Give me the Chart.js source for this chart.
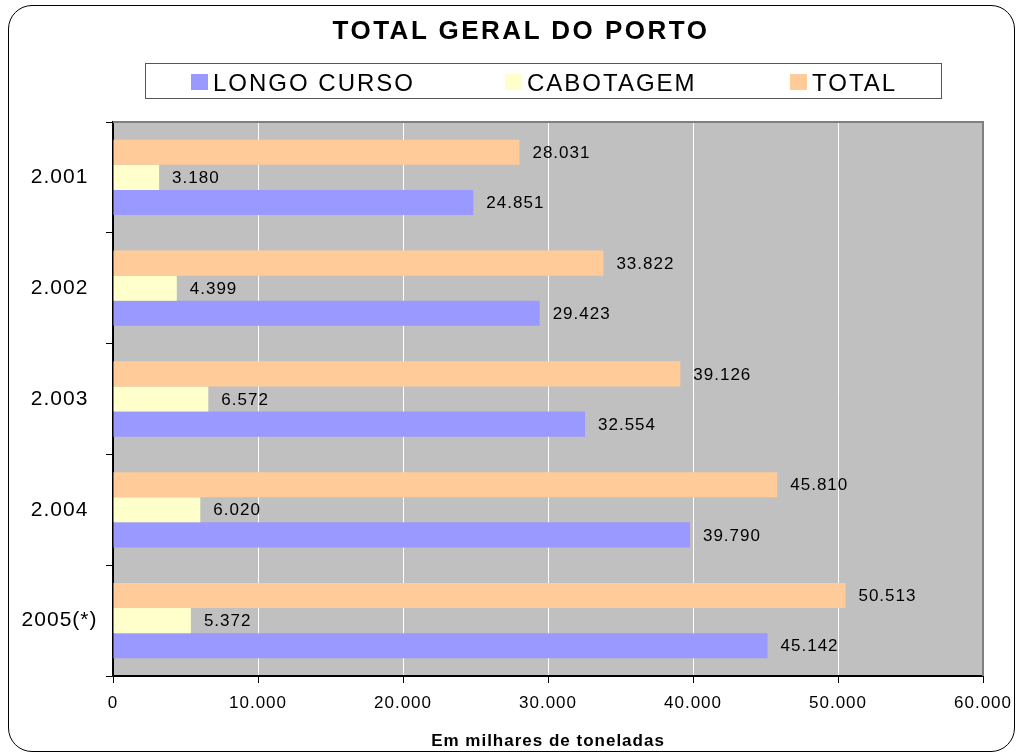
<!DOCTYPE html>
<html>
<head>
<meta charset="utf-8">
<title>Total Geral do Porto</title>
<script src="https://cdn.jsdelivr.net/npm/chart.js@4"></script>
<style>
    body { margin: 0; background: #fff; font-family: "Liberation Sans", Arial, sans-serif; }
    #wrap { position: relative; width: 1016px; height: 753px; overflow: hidden; }
    #chart { position: absolute; left: 0; top: 0; }
    #frame {
        position: absolute; left: 8px; top: 5px; width: 1005px; height: 745px;
        border: 1.5px solid #000; border-radius: 24px; pointer-events: none;
    }
    #title {
        position: absolute; left: 0; width: 1042px; top: 15px; text-align: center;
        font-weight: bold; font-size: 26px; letter-spacing: 2.5px; color: #000;
    }
    #legend {
        position: absolute; left: 145px; top: 63px; width: 795px; height: 34px;
        border: 1.5px solid #555; background: #fff;
    }
    .item { position: absolute; top: 2px; height: 34px; display: flex; align-items: center; }
    .swatch { width: 17px; height: 16px; margin-right: 5px; margin-top: -2px; }
    .label { font-size: 24px; letter-spacing: 2px; color: #000; }
</style>
</head>
<body>
<div id="wrap">
    <canvas id="chart" width="1016" height="753"></canvas>
    <div id="title">TOTAL GERAL DO PORTO</div>
    <div id="legend"></div>
    <div id="frame"></div>
</div>
<script>
// Movimento do porto, em milhares de toneladas
const years = ['2.001', '2.002', '2.003', '2.004', '2005(*)'];
const longoCurso = [24851, 29423, 32554, 39790, 45142];
const cabotagem = [3180, 4399, 6572, 6020, 5372];
const total = [28031, 33822, 39126, 45810, 50513];
const xTicks = [0, 10000, 20000, 30000, 40000, 50000, 60000];

const FONT = '"Liberation Sans", Arial, sans-serif';

// legend entries, left edge of each swatch inside the box
const legendItems = [
    { text: 'LONGO CURSO', color: '#9999FF', left: 45 },
    { text: 'CABOTAGEM', color: '#FFFFCC', left: 359 },
    { text: 'TOTAL', color: '#FFCC99', left: 644 }
];

function formatNumber(v) {
    return String(v).replace(/\B(?=(\d{3})+(?!\d))/g, '.');
}

function buildLegend() {
    const box = document.getElementById('legend');
    legendItems.forEach(item => {
        const div = document.createElement('div');
        div.className = 'item';
        div.style.left = item.left + 'px';
        div.innerHTML = `<span class="swatch" style="background:${item.color}"></span><span class="label">${item.text}</span>`;
        box.appendChild(div);
    });
}

// grey plot background and a bit of letter spacing on all canvas text
const plotArea = {
    id: 'plotArea',
    beforeDraw(chart) {
        const { ctx, chartArea: a } = chart;
        ctx.letterSpacing = '1px';
        ctx.save();
        ctx.fillStyle = '#C0C0C0';
        ctx.fillRect(a.left, a.top, a.right - a.left, a.bottom - a.top);
        ctx.restore();
    },
    afterDatasetsDraw(chart) {
        const { ctx, chartArea: a } = chart;
        ctx.save();
        ctx.strokeStyle = '#808080';
        ctx.lineWidth = 2;
        ctx.beginPath();
        ctx.moveTo(a.left, a.top);
        ctx.lineTo(a.right, a.top);
        ctx.lineTo(a.right, a.bottom);
        ctx.stroke();
        ctx.restore();
    }
};

// value printed just past the end of each bar
const barValues = {
    id: 'barValues',
    afterDatasetsDraw(chart) {
        const ctx = chart.ctx;
        ctx.save();
        ctx.font = '17px ' + FONT;
        ctx.fillStyle = '#000';
        ctx.textAlign = 'left';
        ctx.textBaseline = 'middle';
        chart.data.datasets.forEach((ds, i) => {
            chart.getDatasetMeta(i).data.forEach((bar, j) => {
                ctx.fillText(formatNumber(ds.data[j]), bar.x + 13, bar.y + 1);
            });
        });
        ctx.restore();
    }
};

function initializeChart() {
    const ctx = document.getElementById('chart').getContext('2d');
    return new Chart(ctx, {
        type: 'bar',
        data: {
            labels: years,
            datasets: [
                { label: 'TOTAL', data: total, backgroundColor: '#FFCC99' },
                { label: 'CABOTAGEM', data: cabotagem, backgroundColor: '#FFFFCC' },
                { label: 'LONGO CURSO', data: longoCurso, backgroundColor: '#9999FF' }
            ]
        },
        options: {
            indexAxis: 'y',
            responsive: false,
            animation: false,
            events: [],
            datasets: {
                bar: { categoryPercentage: 0.68, barPercentage: 1.0, borderWidth: 0 }
            },
            layout: { padding: { top: 122, right: 33, bottom: 0, left: 0 } },
            plugins: {
                legend: { display: false },
                title: { display: false },
                tooltip: { enabled: false }
            },
            scales: {
                x: {
                    min: 0,
                    max: 60000,
                    afterBuildTicks: axis => { axis.ticks = xTicks.map(v => ({ value: v })); },
                    afterFit: axis => {
                        axis.height = 77;
                        axis.paddingLeft = 0;
                        axis.paddingRight = 0;
                    },
                    grid: { color: '#FFFFFF', lineWidth: 1, tickColor: '#000', tickLength: 7 },
                    border: { color: '#000', width: 2 },
                    ticks: {
                        color: '#000',
                        padding: 10,
                        maxRotation: 0,
                        font: { family: FONT, size: 17 },
                        callback: v => formatNumber(v)
                    },
                    title: {
                        display: true,
                        text: 'Em milhares de toneladas',
                        color: '#000',
                        padding: { top: 0, bottom: 1 },
                        font: { family: FONT, size: 17, weight: 'bold' }
                    }
                },
                y: {
                    afterFit: axis => { axis.width = 113; },
                    grid: { drawOnChartArea: false, tickColor: '#000', tickLength: 7, offset: true },
                    border: { color: '#000', width: 2 },
                    ticks: {
                        color: '#000',
                        padding: 12,
                        crossAlign: 'center',
                        font: { family: FONT, size: 21 }
                    }
                }
            }
        },
        plugins: [plotArea, barValues]
    });
}

buildLegend();
initializeChart();
</script>
</body>
</html>
